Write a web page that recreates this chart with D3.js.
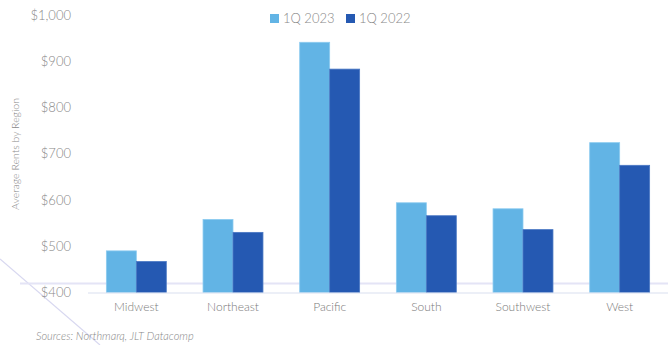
<!DOCTYPE html>
<html>
<head>
<meta charset="utf-8">
<script src="https://cdn.jsdelivr.net/npm/d3@7"></script>
<style>
  body { margin: 0; background: #fff; }
  svg text { font-family: Lato, "Open Sans", sans-serif; font-weight: 300; fill: #7f7f7f; }
</style>
</head>
<body>
<svg id="chart"></svg>
<script>
const regions = ["Midwest", "Northeast", "Pacific", "South", "Southwest", "West"];
const seriesNames = ["1Q 2023", "1Q 2022"];
const rent2023 = [490, 558, 941, 594, 581, 724];
const rent2022 = [467, 530, 883, 566, 536, 675];
const yTicks = [400, 500, 600, 700, 800, 900, 1000];

const width = 668, height = 345;
const colors = ["#62b4e5", "#2559b2"];

const svg = d3.select("#chart")
    .attr("width", width)
    .attr("height", height);

// decorative background lines
svg.append("line")
    .attr("x1", 0).attr("y1", 259)
    .attr("x2", 100).attr("y2", 345)
    .style("stroke", "#d8d8f0").style("stroke-width", 1.2);

svg.append("line")
    .attr("x1", 20).attr("y1", 283.5)
    .attr("x2", width).attr("y2", 283.5)
    .style("stroke", "#e4e4f6").style("stroke-width", 2.2);

const x = d3.scaleBand()
    .domain(regions)
    .range([88, 668])
    .paddingInner(0.38)
    .paddingOuter(0.19);

const x1 = d3.scaleBand()
    .domain(seriesNames)
    .range([0, x.bandwidth()]);

const y = d3.scaleLinear()
    .domain([400, 1000])
    .range([292.5, 15]);

const data = regions.map((r, i) => ({ region: r, values: [rent2023[i], rent2022[i]] }));

const groups = svg.selectAll(".grp")
    .data(data)
    .enter().append("g")
      .attr("class", "grp")
      .attr("transform", d => "translate(" + x(d.region) + ",0)");

groups.selectAll("rect")
    .data(d => d.values.map((v, i) => ({ key: seriesNames[i], value: v, i: i })))
    .enter().append("rect")
      .attr("x", d => x1(d.key))
      .attr("y", d => y(d.value))
      .attr("width", x1.bandwidth())
      .attr("height", d => y(400) - y(d.value))
      .style("fill", d => colors[d.i])
      .style("stroke", d => d.i === 0 ? "#8ccbf0" : "#4a78c4")
      .style("stroke-width", 0.8);

// x axis line
svg.append("line")
    .attr("x1", 88).attr("y1", 293)
    .attr("x2", width).attr("y2", 293)
    .style("stroke", "#d9e0f0").style("stroke-width", 1.2);

const xAxis = d3.axisBottom(x).tickSize(0).tickPadding(9);
const gX = svg.append("g")
    .attr("transform", "translate(0,293)")
    .call(xAxis);
gX.select(".domain").remove();
gX.selectAll("text").style("font-size", "12px").style("fill", "#7a7a7a");

const yAxis = d3.axisLeft(y)
    .tickValues(yTicks)
    .tickSize(0)
    .tickPadding(0)
    .tickFormat(d => "$" + d3.format(",")(d));
const gY = svg.append("g")
    .attr("transform", "translate(71,0)")
    .call(yAxis);
gY.select(".domain").remove();
gY.selectAll("text").style("font-size", "13px").style("fill", "#888");

// y label
svg.append("text")
    .attr("transform", "translate(19,154) rotate(-90)")
    .style("text-anchor", "middle")
    .style("font-size", "10.5px")
    .style("fill", "#888")
    .text("Average Rents by Region");

// legend
const legendX = [270, 346];
const legend = svg.selectAll(".legend")
    .data(seriesNames)
    .enter().append("g")
      .attr("class", "legend")
      .attr("transform", (d, i) => "translate(" + legendX[i] + ",14)");
legend.append("rect")
    .attr("width", 9).attr("height", 9)
    .style("fill", (d, i) => colors[i]);
legend.append("text")
    .attr("x", 13).attr("y", 9)
    .style("font-size", "13px")
    .style("fill", "#888")
    .text(d => d);

// source
svg.append("text")
    .attr("x", 36).attr("y", 340)
    .style("font-size", "11px")
    .style("font-style", "italic")
    .style("fill", "#888")
    .text("Sources: Northmarq, JLT Datacomp");
</script>
</body>
</html>
